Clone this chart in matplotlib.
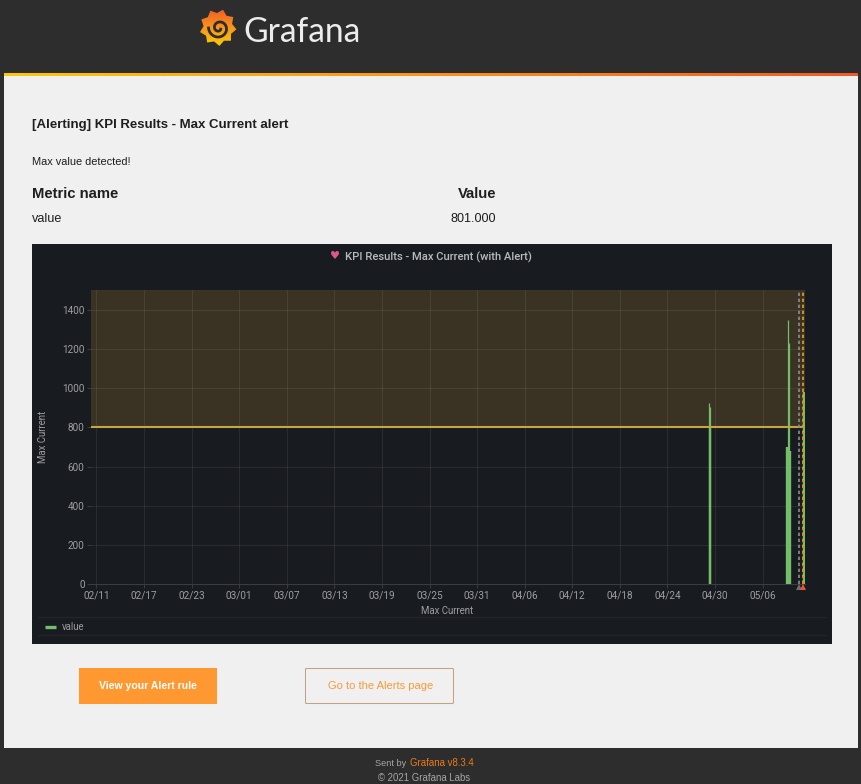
import numpy as np
import matplotlib
matplotlib.use("Agg")
import matplotlib.pyplot as plt
from matplotlib.colors import LinearSegmentedColormap
from matplotlib.patches import Polygon, Rectangle, FancyBboxPatch

# ------------------------------------------------------------
# Data (x = days since 02/11)
# ------------------------------------------------------------
tick_days = [0, 6, 12, 18, 24, 30, 36, 42, 48, 54, 60, 66, 72, 78, 84]
tick_labels = ["02/11", "02/17", "02/23", "03/01", "03/07", "03/13", "03/19", "03/25",
               "03/31", "04/06", "04/12", "04/18", "04/24", "04/30", "05/06"]
y_ticks = [0, 200, 400, 600, 800, 1000, 1200, 1400]

thick_days = [77.33, 87.12, 87.42, 89.28]
thick_vals = [800, 700, 680, 980]
thin_days = [77.28, 77.4, 87.22, 87.34]
thin_vals = [925, 905, 1350, 1230]

threshold = 800
annotation_days = [88.55, 89.15]

page_bg = "#f0f0f0"
dark_bg = "#2d2d2d"
panel_bg = "#181b1f"
text_col = "#1e1e1e"
axis_col = "#9d9ea2"
green = "#73bf69"

W, H = 862, 784
fig = plt.figure(figsize=(W / 100, H / 100), dpi=100, facecolor=dark_bg)

# page in pixel coordinates
page = fig.add_axes([0, 0, 1, 1])
page.set_xlim(0, W)
page.set_ylim(H, 0)
page.axis("off")

page.add_patch(Rectangle((4, 76), 854, 672, color=page_bg, lw=0))

strip = LinearSegmentedColormap.from_list("strip", ["#fbc80e", "#f7941d", "#f05a28"])
page.imshow(np.linspace(0, 1, 256).reshape(1, -1), cmap=strip, aspect="auto",
            extent=(4, 858, 76, 73), zorder=2)

# logo
sun = LinearSegmentedColormap.from_list("sun", ["#f05a28", "#f7941d", "#fbca0a"])
ang = np.linspace(0, 2 * np.pi, 19)[:-1] + 0.1
rad = np.where(np.arange(18) % 2 == 0, 18.5, 14.5)
gear = Polygon(np.c_[218 + rad * np.cos(ang), 27.5 + rad * np.sin(ang)], closed=True,
               transform=page.transData, fc="none", ec="none")
page.add_patch(gear)
im = page.imshow(np.linspace(0, 1, 64).reshape(-1, 1), cmap=sun, aspect="auto",
                 extent=(195, 240, 46, 8), zorder=3)
im.set_clip_path(gear)
t = np.linspace(0.6, 3.0 * np.pi, 120)
sr = 1.5 + 0.95 * t
page.plot(219 + sr * np.cos(t), 28 + sr * np.sin(t), color=dark_bg, lw=2.0, zorder=4)
page.text(243.5, 32, "Grafana", fontsize=24.2, family="Lato", color="#ececec",
          va="center", ha="left")

# e-mail text
helv = "Liberation Sans"
page.text(32, 125, "[Alerting] KPI Results - Max Current alert", fontsize=9.5, family=helv,
          weight="bold", color=text_col, va="center")
page.text(32, 161.5, "Max value detected!", fontsize=7.9, family=helv, color=text_col, va="center")
page.text(32, 193.5, "Metric name", fontsize=10.7, family=helv, weight="bold", color=text_col, va="center")
page.text(496, 193.5, "Value", fontsize=10.7, family=helv, weight="bold", color=text_col, va="center", ha="right")
page.text(32, 219, "value", fontsize=9.1, family=helv, color=text_col, va="center")
page.text(496, 219, "801.000", fontsize=9.1, family=helv, color=text_col, va="center", ha="right")

# panel
page.add_patch(Rectangle((32, 244), 800, 400, color=panel_bg, lw=0))
page.text(335, 255.5, "\u2665", fontsize=8, color="#e0558f", ha="center", va="center", family="DejaVu Sans")
page.text(345, 257, "KPI Results - Max Current (with Alert)", fontsize=8.1, family="Roboto",
          weight="medium", color="#b9babd", va="center")

# legend rows
for yy in [617, 635]:
    page.plot([38, 826], [yy, yy], color="#22252a", lw=1)

# buttons
page.add_patch(Rectangle((79, 668), 138, 36, color="#ff9830", lw=0))
page.text(148, 686, "View your Alert rule", fontsize=7.6, family=helv, weight="bold",
          color="white", ha="center", va="center")
page.add_patch(FancyBboxPatch((305.5, 668.5), 148, 35, boxstyle="round,pad=0,rounding_size=1",
                              fc=page_bg, ec="#c4a27f", lw=0.75))
page.text(380.5, 686, "Go to the Alerts page", fontsize=8.0, family=helv,
          color="#f79a3a", ha="center", va="center")

# footer
page.text(375, 763.5, "Sent by", fontsize=6.6, family=helv, color="#a6a6a6", va="center")
page.text(410, 763.5, "Grafana v8.3.4", fontsize=6.9, family=helv, color="#eb7b18", va="center")
page.text(424, 778, "\u00a9 2021 Grafana Labs", fontsize=6.9, family=helv, color="#a6a6a6",
          va="center", ha="center")

page.set_xlim(0, W)
page.set_ylim(H, 0)

# ------------------------------------------------------------
# Chart
# ------------------------------------------------------------
ax = fig.add_axes([91 / W, 1 - 584 / H, (805 - 91) / W, (584 - 290) / H], facecolor=panel_bg)
ax.set_xlim(-0.69, 89.35)
ax.set_ylim(0, 1502)

ax.axhspan(threshold, 1502, color="#3a3324", lw=0, zorder=0)
ax.grid(True, color="#ffffff", alpha=0.08, lw=0.7, zorder=1)
ax.set_axisbelow(True)
ax.hlines(threshold, -0.69, annotation_days[1], color="#c6a63e", lw=1.5, zorder=4)

ax.vlines(thin_days, 0, thin_vals, color=green, lw=0.9, zorder=3)
ax.vlines(thick_days, 0, thick_vals, color=green, lw=1.7, zorder=3)

ax.axvline(annotation_days[0], color="#8e8e8e", lw=1.2, ls=(0, (2, 1.6)), zorder=5)
ax.axvline(annotation_days[1], color="#d9b310", lw=1.2, ls=(0, (2, 1.6)), zorder=5)
ax.axvline(annotation_days[1], color="#e8752a", lw=1.2, ls=(0, (1, 2.6)), zorder=6)

ax.plot(annotation_days[0], -17, marker="^", color="#6e6e6e", ms=4, mew=0, clip_on=False, zorder=6)
ax.plot(annotation_days[1], -17, marker="^", color="#f0503c", ms=5, mew=0, clip_on=False, zorder=7)

ax.set_xticks(tick_days)
ax.set_xticklabels(tick_labels)
ax.set_yticks(y_ticks)
ax.tick_params(axis="both", colors=axis_col, labelsize=7.2, length=3, width=0.7, pad=1.5,
               color="#3a3c40", labelfontfamily="Roboto")
for side in ["top", "right", "left"]:
    ax.spines[side].set_visible(False)
ax.spines["bottom"].set_color("#3a3c40")
ax.spines["bottom"].set_linewidth(0.8)

page.text(43, 437, "Max Current", fontsize=6.9, family="Roboto", color=axis_col, rotation=90,
          ha="center", va="center")
page.text(447, 610.5, "Max Current", fontsize=6.9, family="Roboto", color=axis_col,
          ha="center", va="center")

# legend
page.plot([45, 56], [626.5, 626.5], color=green, lw=2.4, solid_capstyle="butt")
page.text(62, 626.5, "value", fontsize=6.9, family="Roboto", color=axis_col, va="center")

fig.savefig("out.png", dpi=100, facecolor=fig.get_facecolor())
